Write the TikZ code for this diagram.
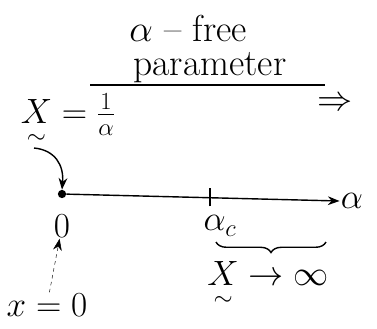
\RequirePackage{fix-cm}
\documentclass[tikz,border=0pt]{standalone}
\usepackage{amsmath}
\usetikzlibrary{arrows.meta,positioning,decorations.pathreplacing}
\newcommand{\vecx}{\underset{\lower2pt\hbox{$\scriptstyle\sim$}}{X}}
\tikzset{
  >={Stealth[length=3.5mm]},
  hand/.style={font=\fontsize{30}{34}\selectfont,inner sep=1pt},
  head/.style={font=\fontsize{32}{36}\selectfont,inner sep=1pt,anchor=base},
  ln/.style={line width=1.2pt},
}
\begin{document}
\begin{tikzpicture}[x=0.03cm,y=-0.03cm]
\useasboundingbox (0,0) rectangle (377,328);
% heading
\node[head] (title) at (188,41) {$\alpha$ -- free};
\node[head] (param) at (210,75) {parameter};
\coordinate (ul1) at (90,85); \coordinate (ul2) at (325,85);
\draw[ln] (ul1) -- (ul2);
\node[hand] (xdef) at (68,120) {$\vecx=\frac{1}{\alpha}$};
\node[hand] (impl) at (335,104) {$\Rightarrow$};
% axis
\node[circle,fill,inner sep=2.5pt] (origin) at (62,194) {};
\node[hand] (alpha) at (352,201) {$\alpha$};
\draw[ln,->] (origin) -- (alpha.west);
\coordinate (crit) at (210,197);
\draw[ln] ([yshift=-8pt]crit) -- ([yshift=8pt]crit);
\coordinate (xbot) at (34,148);
\draw[ln,->] (xbot) .. controls (55,150) and (64,165) .. (origin.north);
\node[hand] (zero) at (62,226) {$0$};
\node[hand] (alphac) at (220,226) {$\alpha_c$};
\coordinate (br1) at (216,242); \coordinate (br2) at (326,242);
\draw[ln,decorate,decoration={brace,mirror,amplitude=9pt}] (br1) -- (br2);
\node[hand] (xinf) at (268,285) {$\vecx\to\infty$};
\node[hand] (xzero) at (47,305) {$x=0$};
\draw[->,dashed] (xzero) -- (zero);
\end{tikzpicture}
\end{document}
